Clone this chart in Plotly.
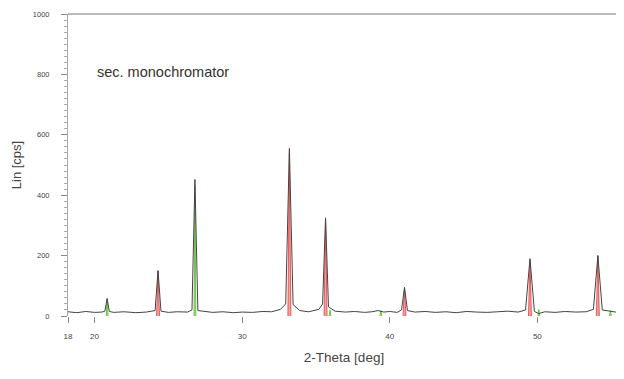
import plotly.graph_objects as go

# Measured pattern (2-Theta in deg, intensity in cps)
two_theta = [18.2, 18.8, 19.4, 20.0, 20.5, 20.7, 20.85, 21.0, 21.3, 22.0, 22.8, 23.5,
             24.1, 24.3, 24.5, 25.0, 25.6, 26.3, 26.6, 26.8, 27.0, 27.4, 28.0, 28.7,
             29.4, 30.0, 30.7, 31.4, 32.0, 32.6, 32.95, 33.2, 33.45, 33.9, 34.5, 35.2,
             35.45, 35.65, 35.85, 36.3, 37.0, 37.6, 38.3, 38.8, 39.2, 39.6, 40.0, 40.5,
             40.8, 41.0, 41.2, 41.7, 42.4, 43.1, 43.8, 44.5, 45.2, 45.9, 46.6, 47.3,
             48.0, 48.7, 49.2, 49.5, 49.8, 50.1, 50.5, 51.2, 51.9, 52.6, 53.3, 53.8,
             54.1, 54.4, 54.9, 55.3, 55.7]
counts = [14, 11, 15, 12, 13, 16, 58, 15, 12, 14, 11, 13,
          18, 150, 16, 12, 14, 13, 20, 452, 18, 15, 12, 14,
          11, 13, 12, 15, 14, 22, 40, 555, 38, 18, 14, 22,
          40, 325, 30, 16, 13, 15, 12, 14, 18, 13, 15, 12,
          20, 95, 18, 13, 15, 12, 14, 11, 15, 13, 12, 14,
          16, 13, 20, 190, 15, 8, 14, 12, 15, 13, 14, 22,
          200, 20, 16, 13, 14]

# Phase reflections (red phase and green phase)
red_pos = [24.3, 33.2, 35.65, 41.0, 49.5, 54.1]
red_int = [150, 540, 320, 90, 185, 200]
green_pos = [20.85, 26.8, 35.95, 39.4, 50.1, 54.95]
green_int = [55, 430, 20, 18, 22, 18]

x_tickvals = [18.2, 20, 30, 40, 50]
x_ticktext = ["18", "20", "30", "40", "50"]
y_tickvals = [0, 200, 400, 600, 800, 1000]

def peak_outline(pos, inten, half):
    xs, ys = [], []
    for p, h in zip(pos, inten):
        xs += [p - half, p, p + half, None]
        ys += [0, h, 0, None]
    return xs, ys

fig = go.Figure()

rx, ry = peak_outline(red_pos, red_int, 0.1)
fig.add_trace(go.Scatter(x=rx, y=ry, mode="lines", fill="toself",
                         fillcolor="rgba(235,90,90,0.55)",
                         line=dict(color="rgba(220,60,60,0.8)", width=1),
                         hoverinfo="skip", showlegend=False))
gx, gy = peak_outline(green_pos, green_int, 0.06)
fig.add_trace(go.Scatter(x=gx, y=gy, mode="lines", fill="toself",
                         fillcolor="rgba(120,200,80,0.6)",
                         line=dict(color="rgba(100,190,60,0.9)", width=1),
                         hoverinfo="skip", showlegend=False))
fig.add_trace(go.Scatter(x=two_theta, y=counts, mode="lines",
                         line=dict(color="#444444", width=1),
                         showlegend=False))

fig.add_annotation(x=(95 - 68) / 552, y=(316 - 72) / 302, xref="paper", yref="paper",
                   text="sec. monochromator", showarrow=False,
                   xanchor="left", yanchor="middle",
                   font=dict(size=14.5, color="#333333", family="Liberation Sans"))

fig.update_layout(
    width=616, height=371,
    margin=dict(l=60, r=4, t=6, b=63, autoexpand=False),
    paper_bgcolor="white", plot_bgcolor="white",
    font=dict(family="Liberation Sans", color="#444444"),
    xaxis=dict(range=[18.2, 55.6], tickvals=x_tickvals, ticktext=x_ticktext,
               ticks="outside", ticklen=6, tickcolor="#888888", automargin=False,
               tickfont=dict(size=8), showgrid=False, zeroline=False,
               showline=False, ticklabelstandoff=6,
               title=dict(text="2-Theta [deg]", font=dict(size=13.5), standoff=12)),
    yaxis=dict(range=[0, 1000], tickvals=y_tickvals, automargin=False,
               ticks="outside", ticklen=6, tickcolor="#888888",
               tickfont=dict(size=7.5), showgrid=False, zeroline=False,
               showline=True, linecolor="#aaaaaa", linewidth=1,
               ticklabelstandoff=10,
               minor=dict(ticks="outside", dtick=20, ticklen=3, tickcolor="#aaaaaa"),
               title=dict(text="Lin [cps]", font=dict(size=13), standoff=8)),
)
fig.add_shape(type="line", xref="paper", yref="paper", x0=0, x1=1, y0=1, y1=1,
              line=dict(color="#bbbbbb", width=2))

fig.write_html("out.html")
